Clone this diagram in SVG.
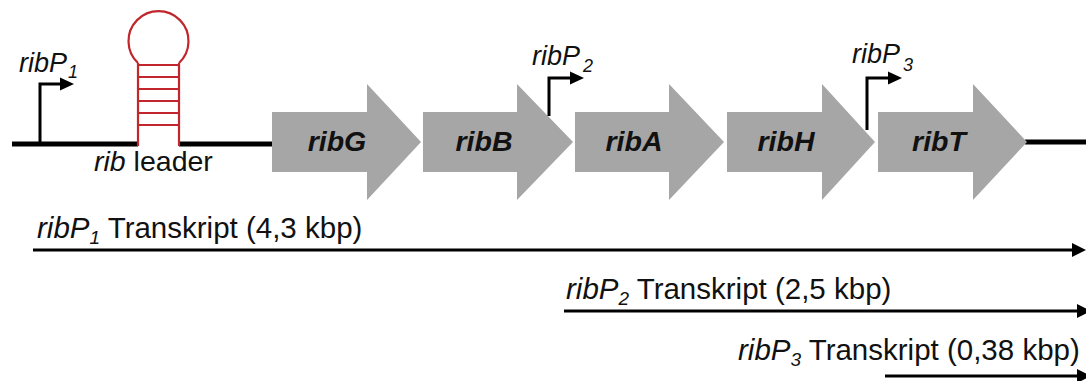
<svg xmlns="http://www.w3.org/2000/svg" width="1086" height="381" viewBox="0 0 1086 381">
<defs>
<style>
.t{font-family:"Liberation Sans",Arial,sans-serif;fill:#111}
.lab{font-size:27px;font-style:italic}
.gene{font-size:28.5px;font-weight:bold;font-style:italic;text-anchor:middle}
.tr{font-size:29.5px}
.dna{stroke:#000;stroke-width:5;fill:none}
.prom{stroke:#000;stroke-width:3;fill:none}
.ah{fill:#000}
.hp{stroke:#c0262c;stroke-width:2.2;fill:none}
.g{fill:#a6a6a6}
.tl{stroke:#000;stroke-width:2.8;fill:none}
</style>
</defs>
<rect width="1086" height="381" fill="#fff"/>
<g id="dna">
<line class="dna" x1="12" y1="144" x2="138" y2="144"/>
<line class="dna" x1="179" y1="144" x2="274" y2="144"/>
<line class="dna" x1="1025" y1="142" x2="1086" y2="142"/>
</g>
<g id="hairpin">
<path class="hp" d="M138 146 V63 M179 146 V63 M138 63 A30 30 0 1 1 179 63"/>
<path class="hp" d="M138 65 H179 M138 77 H179 M138 89 H179 M138 101 H179 M138 113 H179 M138 125 H179"/>
</g>
<g id="ribG"><path class="g" d="M272 112 H367 V84 L421 142 L367 200 V172 H272 Z"/><text class="t gene" x="337" y="151">ribG</text></g>
<g id="ribB"><path class="g" d="M423 112 H517 V84 L573 142 L517 200 V172 H423 Z"/><text class="t gene" x="484" y="151">ribB</text></g>
<g id="ribA"><path class="g" d="M575 112 H669 V84 L724 142 L669 200 V172 H575 Z"/><text class="t gene" x="634" y="151">ribA</text></g>
<g id="ribH"><path class="g" d="M727 112 H822 V84 L875 142 L822 200 V172 H727 Z"/><text class="t gene" x="786" y="151">ribH</text></g>
<g id="ribT"><path class="g" d="M878 112 H973 V84 L1027 142 L973 200 V172 H878 Z"/><text class="t gene" x="939" y="151">ribT</text></g>
<g id="P1">
<path class="prom" d="M40 144 V84 H61"/><path class="ah" d="M60 77.5 L74 84 L60 90.5 Z"/>
<text class="t lab" x="19" y="72">ribP<tspan font-size="18" dx="1" dy="6">1</tspan></text>
</g>
<g id="P2">
<path class="prom" d="M549 116 V78 H571"/><path class="ah" d="M570 71.5 L584 78 L570 84.5 Z"/>
<text class="t lab" x="532" y="65">ribP<tspan font-size="18" dx="3" dy="7">2</tspan></text>
</g>
<g id="P3">
<path class="prom" d="M867 130 V78 H889"/><path class="ah" d="M888 71.5 L902 78 L888 84.5 Z"/>
<text class="t lab" x="852" y="63">ribP<tspan font-size="18" dx="3" dy="8">3</tspan></text>
</g>
<g id="leader"><text class="t" x="94" y="171" font-size="28.5"><tspan font-style="italic">rib</tspan> leader</text></g>
<g id="connectors">
<line class="tl" x1="33" y1="250" x2="1074" y2="250"/><path class="ah" d="M1072 243 L1086 250 L1072 257 Z"/>
<line class="tl" x1="564" y1="311" x2="1079" y2="311"/><path class="ah" d="M1077 304 L1091 311 L1077 318 Z"/>
<line class="tl" x1="885" y1="376" x2="1079" y2="376"/><path class="ah" d="M1077 369 L1091 376 L1077 383 Z"/>
</g>
<g id="transcripts">
<text class="t tr" x="37" y="238"><tspan font-style="italic">ribP</tspan><tspan font-style="italic" font-size="19" dy="6">1</tspan><tspan dy="-6"> Transkript (4,3 kbp)</tspan></text>
<text class="t tr" x="566" y="299"><tspan font-style="italic">ribP</tspan><tspan font-style="italic" font-size="19" dy="6">2</tspan><tspan dy="-6"> Transkript (2,5 kbp)</tspan></text>
<text class="t tr" x="738" y="360"><tspan font-style="italic">ribP</tspan><tspan font-style="italic" font-size="19" dy="6">3</tspan><tspan dy="-6"> Transkript (0,38 kbp)</tspan></text>
</g>
</svg>
